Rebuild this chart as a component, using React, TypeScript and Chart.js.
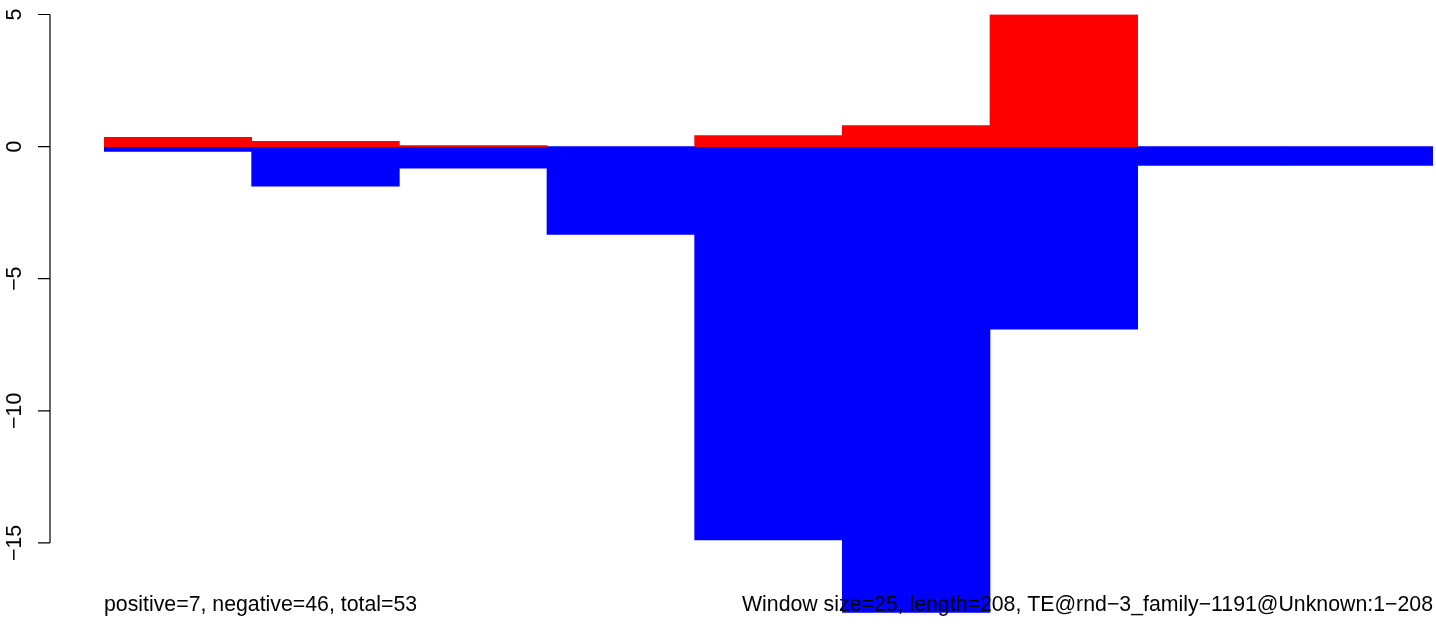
import React, { useEffect, useRef } from "react";
import { Chart, registerables } from "chart.js";

Chart.register(...registerables);

const windows = ["1-25", "26-50", "51-75", "76-100", "101-125", "126-150", "151-175", "176-200", "201-208"];
const positiveValues = [0.35, 0.2, 0.04, 0, 0.42, 0.8, 5.0, 0, 0];
const negativeValues = [-0.18, -1.5, -0.82, -3.32, -14.89, -17.64, -6.91, -0.71, -0.71];
const yTicks = [5, 0, -5, -10, -15];
const yMin = -17.64;
const yMax = 5;
const leftNote = "positive=7, negative=46, total=53";
const rightNote = "Window size=25, length=208, TE@rnd\u22123_family\u22121191@Unknown:1\u2212208";

const FONT = "21.3px 'Liberation Sans', Arial, sans-serif";

const rAxisPlugin = {
  id: "rAxis",
  afterDraw(chart: any) {
    const ctx = chart.ctx;
    const y = chart.scales.y;
    const area = chart.chartArea;
    const axisX = 50;
    ctx.save();
    ctx.strokeStyle = "#000";
    ctx.lineWidth = 1.2;
    ctx.beginPath();
    ctx.moveTo(axisX, y.getPixelForValue(yTicks[0]));
    ctx.lineTo(axisX, y.getPixelForValue(yTicks[yTicks.length - 1]));
    for (const t of yTicks) {
      const py = y.getPixelForValue(t);
      ctx.moveTo(axisX, py);
      ctx.lineTo(axisX - 12, py);
    }
    ctx.stroke();
    ctx.fillStyle = "#000";
    ctx.font = FONT;
    ctx.textAlign = "center";
    ctx.textBaseline = "middle";
    for (const t of yTicks) {
      const py = y.getPixelForValue(t);
      ctx.save();
      ctx.translate(15, py);
      ctx.rotate(-Math.PI / 2);
      ctx.fillText(t < 0 ? "\u2212" + Math.abs(t) : String(t), 0, 0);
      ctx.restore();
    }
    ctx.textBaseline = "middle";
    ctx.textAlign = "left";
    ctx.fillText(leftNote, area.left, 605);
    ctx.textAlign = "right";
    ctx.fillText(rightNote, area.right, 605);
    ctx.restore();
  },
};

export default function App() {
  const ref = useRef<HTMLCanvasElement>(null);
  useEffect(() => {
    if (!ref.current) return;
    const chart = new Chart(ref.current, {
      type: "bar",
      data: {
        labels: windows,
        datasets: [
          {
            label: "positive",
            data: positiveValues,
            backgroundColor: (c: any) => (c.raw === 0 ? "rgba(0,0,0,0)" : "#ff0000"),
            borderWidth: 0,
            grouped: false,
            barPercentage: 1,
            categoryPercentage: 1,
          } as any,
          {
            label: "negative",
            data: negativeValues,
            backgroundColor: "#0000ff",
            borderWidth: 0,
            grouped: false,
            barPercentage: 1,
            categoryPercentage: 1,
          } as any,
        ],
      },
      options: {
        animation: false,
        responsive: false,
        maintainAspectRatio: false,
        layout: { padding: { left: 104, right: 3, top: 14.5, bottom: 21.3 } },
        plugins: { legend: { display: false }, tooltip: { enabled: false } },
        scales: {
          x: { display: false },
          y: { display: false, min: yMin, max: yMax },
        },
      },
      plugins: [rAxisPlugin],
    });
    return () => chart.destroy();
  }, []);
  return (
    <div style={{ position: "absolute", left: 0, top: 0, width: 1436, height: 634, background: "#fff" }}>
      <canvas ref={ref} width={1436} height={634} style={{ width: 1436, height: 634 }} />
    </div>
  );
}
